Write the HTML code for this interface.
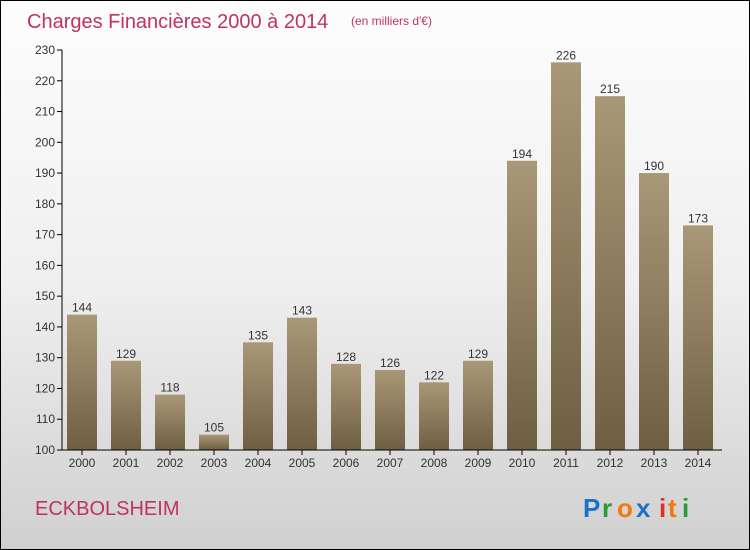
<!DOCTYPE html>
<html><head><meta charset="utf-8"><style>
body{margin:0}
#c{position:relative;width:748px;height:548px;border:1px solid #000;background:linear-gradient(#fdfdfd 0%,#f0f0f0 50%,#d0d0d0 100%);font-family:"Liberation Sans",sans-serif;overflow:hidden}
</style></head><body>
<div id="c">
<svg width="748" height="548" id="s">
<defs><linearGradient id="g" x1="0" y1="0" x2="0" y2="1"><stop offset="0" stop-color="#a99877"/><stop offset="1" stop-color="#6f5f42"/></linearGradient></defs>
<text x="26" y="27" font-size="20" fill="#c0335f">Charges Financières 2000 à 2014</text>
<text x="350" y="24" font-size="12" fill="#c0335f">(en milliers d'€)</text>
<text x="34" y="514" font-size="20" fill="#c0335f">ECKBOLSHEIM</text>
<g font-size="26" font-family="Liberation Sans,sans-serif" font-weight="bold"><text x="582" y="516" fill="#1a73c8">P</text><text x="601" y="516" fill="#2a9a3a">r</text><text x="616" y="516" fill="#f07a10">o</text><text x="635" y="516" fill="#1a73c8">x</text><text x="658" y="516" fill="#e03020">i</text><text x="667" y="516" fill="#f07a10">t</text><text x="681" y="516" fill="#2a9a3a">i</text></g>
<g id="plot"></g>
</svg>
</div>
<script>
const years=["2000","2001","2002","2003","2004","2005","2006","2007","2008","2009","2010","2011","2012","2013","2014"];
const values=[144,129,118,105,135,143,128,126,122,129,194,226,215,190,173];
const ticks=[100,110,120,130,140,150,160,170,180,190,200,210,220,230];
const NS="http://www.w3.org/2000/svg";
const p=document.getElementById('plot');
const y=v=>449-(v-100)*400/130;
const x=i=>81+i*44;
function mk(t,a){const e=document.createElementNS(NS,t);for(const k in a)e.setAttribute(k,a[k]);p.appendChild(e);return e;}
ticks.forEach(t=>{
 const l=mk('line',{x1:56,x2:61,y1:y(t),y2:y(t),stroke:'#000'});
 
 
 const tx=mk('text',{x:54,y:y(t)+4,'font-size':12,'text-anchor':'end',fill:'#333'});tx.textContent=t;
 
 
});
years.forEach((yr,i)=>{
 const v=values[i];
 const r=mk('rect',{x:x(i)-15,y:y(v),width:30,height:y(100)-y(v),fill:'url(#g)'});
 
 
 const lv=mk('text',{x:x(i),y:y(v)-3,'font-size':12,'text-anchor':'middle',fill:'#333'});lv.textContent=v;
 
 
 const tk=mk('line',{x1:x(i),x2:x(i),y1:449,y2:454,stroke:'#000'});
 
 
 const xl=mk('text',{x:x(i),y:466,'font-size':12,'text-anchor':'middle',fill:'#333'});xl.textContent=yr;
 
 
});
const ya=mk('line',{x1:61,x2:61,y1:y(230),y2:449,stroke:'#000'});


const xa=mk('line',{x1:61,x2:721,y1:449,y2:449,stroke:'#000'});


</script>
</body></html>
